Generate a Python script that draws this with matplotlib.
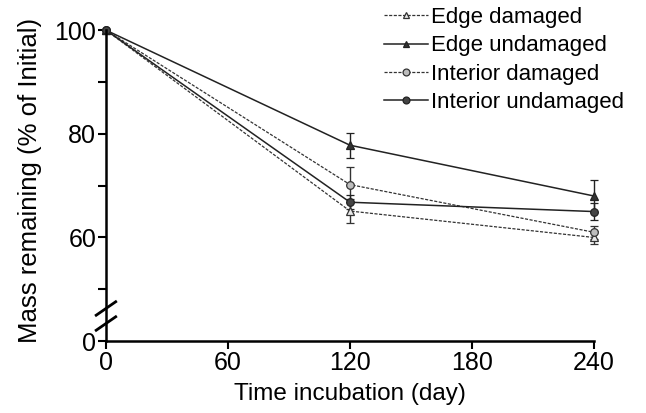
import matplotlib
matplotlib.use("Agg")
import matplotlib.pyplot as plt

plt.rcParams['font.family'] = ['Liberation Sans', 'DejaVu Sans']

days = [0, 120, 240]
edge_damaged = [100, 65.1, 60.0]
edge_damaged_err = [0, 2.3, 1.3]
edge_undamaged = [100, 77.8, 68.0]
edge_undamaged_err = [0, 2.4, 3.0]
interior_damaged = [100, 70.2, 61.0]
interior_damaged_err = [0, 3.4, 1.2]
interior_undamaged = [100, 66.8, 65.0]
interior_undamaged_err = [0, 1.4, 1.6]

xticks = [0, 60, 120, 180, 240]
yticks = [40, 60, 80, 100]
ytick_labels = ["0", "60", "80", "100"]
yminor = [50, 70, 90]

fig = plt.figure(figsize=(6.46, 4.13), dpi=100)
ax = fig.add_axes([0.164, 0.174, 0.7555, 0.753])

common = dict(capsize=3, elinewidth=1.0, capthick=1.0, markersize=5.5,
              markeredgewidth=0.9, clip_on=False)
c1 = ax.errorbar(days, edge_damaged, yerr=edge_damaged_err, color='#333333',
            ls=(0, (2.5, 1.2)), lw=0.9, marker='^', mfc='#e8e8e8', mec='#333333',
            ecolor='#333333', label='Edge damaged', **common)
c2 = ax.errorbar(days, edge_undamaged, yerr=edge_undamaged_err, color='#222222',
            ls='-', lw=1.1, marker='^', mfc='#333333', mec='#222222',
            ecolor='#222222', label='Edge undamaged', **common)
c3 = ax.errorbar(days, interior_damaged, yerr=interior_damaged_err, color='#333333',
            ls=(0, (2.5, 1.2)), lw=0.9, marker='o', mfc='#bdbdbd', mec='#333333',
            ecolor='#333333', label='Interior damaged', **common)
c4 = ax.errorbar(days, interior_undamaged, yerr=interior_undamaged_err, color='#222222',
            ls='-', lw=1.1, marker='o', mfc='#444444', mec='#222222',
            ecolor='#222222', label='Interior undamaged', **common)

ax.set_xlim(0, 240)
ax.set_ylim(40, 100)
ax.set_xticks(xticks)
ax.set_yticks(yticks)
ax.set_yticklabels(ytick_labels)
ax.set_yticks(yminor, minor=True)
for s in ['top', 'right']:
    ax.spines[s].set_visible(False)
for s in ['left', 'bottom']:
    ax.spines[s].set_linewidth(1.8)
ax.tick_params(which='both', direction='out', width=1.5, labelsize=18, pad=1)
ax.tick_params(which='major', length=6)
ax.tick_params(which='minor', length=6)

# axis break marks
for yb in [46.3, 43.4]:
    ax.plot([-4.8, 4.8], [yb - 1.3, yb + 1.3], color='black', lw=2.0,
            clip_on=False)

ax.set_xlabel('Time incubation (day)', fontsize=17.5, labelpad=6)
ax.set_ylabel('Mass remaining (% of Initial)', fontsize=18.5)
ax.yaxis.set_label_coords(-0.13, 0.518)

handles = [c[0] for c in (c1, c2, c3, c4)]
labels = ['Edge damaged', 'Edge undamaged', 'Interior damaged', 'Interior undamaged']
leg = ax.legend(handles, labels, loc='upper left', bbox_to_anchor=(0.547, 1.11),
                frameon=False, fontsize=16, handlelength=2.0, handletextpad=0.1,
                labelspacing=0.33, borderpad=0, markerscale=0.9)

fig.savefig('out.png', dpi=100)
